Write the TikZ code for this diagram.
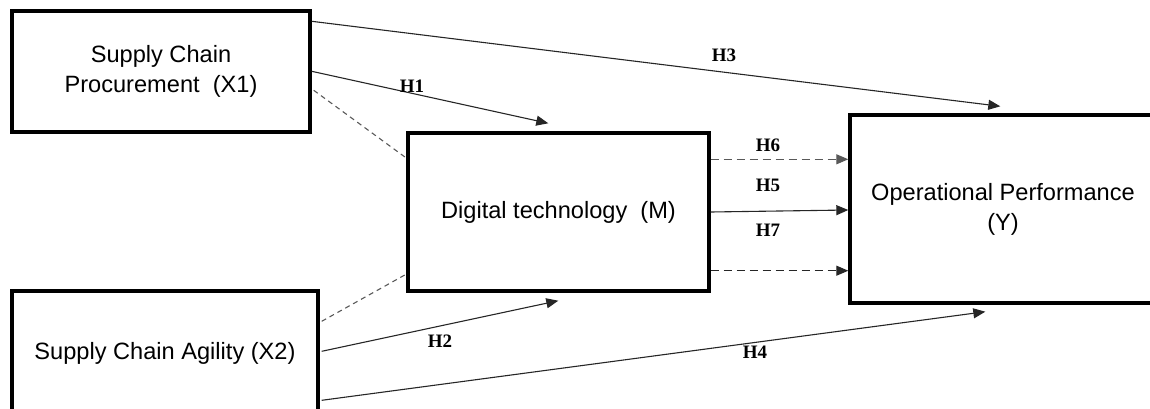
\documentclass[tikz,border=0pt]{standalone}
\usepackage{fontspec}
\setmainfont{Liberation Sans}
\newfontfamily\labfont{Liberation Serif}
\usetikzlibrary{arrows.meta,calc}
\begin{document}
\begin{tikzpicture}[x=1pt,y=-1pt,
  box/.style={draw,line width=3.4pt,rectangle,align=center,inner sep=0pt,
    font=\fontsize{23.6}{30}\selectfont},
  conn/.style={line width=1.1pt,draw=black!85,-{Triangle[length=12pt,width=10pt]}},
  dconn/.style={conn,dash pattern=on 8pt off 5pt},
  dline/.style={line width=1.1pt,draw=black!65,dash pattern=on 5pt off 4pt},
  lab/.style={inner sep=0pt,font=\labfont\bfseries\fontsize{19}{22}\selectfont}]
\useasboundingbox (0,0) rectangle (1150,409);
\node[box,minimum width=298pt,minimum height=121pt] (x1) at (161,71.5) {Supply Chain\\Procurement\ \ (X1)};
\node[box,minimum width=306pt,minimum height=124pt] (x2) at (165,353) {Supply Chain Agility (X2)};
\node[box,minimum width=301pt,minimum height=158pt] (m) at (558.5,212) {Digital technology\ \ (M)};
\node[box,minimum width=306pt,minimum height=188pt] (y) at (1003,209) {Operational Performance\\(Y)};
% connectors
\draw[conn] ($(x1.north east)+(0,12)$) -- ($(y.north west)+(152,-7)$);
\draw[conn] ($(x1.north east)+(0,62)$) -- ($(m.north west)+(142,-8)$);
\draw[dline] ($(x1.north east)+(2,81)$) -- ($(m.north west)+(-1,26)$);
\draw[dline] ($(x2.north east)+(2,32)$) -- ($(m.south west)+(-1,-18)$);
\draw[conn] ($(x2.north east)+(2,62)$) -- ($(m.south west)+(152,8)$);
\draw[conn] ($(x2.north east)+(2,111)$) -- ($(y.south west)+(137,7)$);
\draw[dconn,draw=black!65] ($(m.north east)+(0,28)$) -- ($(y.north west)+(0,46)$);
\draw[conn] (m.east) -- ($(y.west)+(0,1)$);
\draw[dconn] ($(m.south east)+(0,-22)$) -- ($(y.south west)+(0,-34)$);
% labels
\node[lab] (h3) at (724,55) {H3};
\node[lab] (h1) at (412,86) {H1};
\node[lab] (h2) at (440,341) {H2};
\node[lab] (h4) at (755,352) {H4};
\node[lab] (h6) at (768,145) {H6};
\node[lab] (h5) at (768,185) {H5};
\node[lab] (h7) at (768,230) {H7};
\end{tikzpicture}
\end{document}
